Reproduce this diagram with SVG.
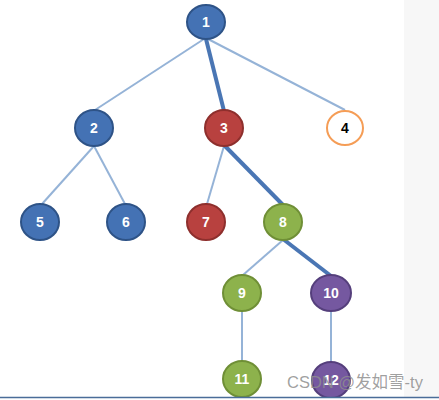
<svg xmlns="http://www.w3.org/2000/svg" width="439" height="400" viewBox="0 0 439 400">
<style>
.e{stroke:#95b3d7;stroke-width:2;fill:none}
.t{stroke:#4a76b4;stroke-width:4;fill:none}
.n{stroke-width:2}
.b{fill:#4472b4;stroke:#2e5387}
.r{fill:#b8413f;stroke:#8e2f2d}
.g{fill:#8db24c;stroke:#6f8f36}
.p{fill:#7558a0;stroke:#553f7c}
.o{fill:#ffffff;stroke:#f59d56}
text{font-family:"Liberation Sans",Arial,sans-serif;font-size:14px;font-weight:bold;fill:#ffffff;text-anchor:middle;dominant-baseline:central}
.wm{font-family:"Liberation Sans","Noto Sans CJK SC",sans-serif;font-weight:normal;font-size:16.5px;fill:#8f8f8f;fill-opacity:0.85;text-anchor:start;dominant-baseline:auto}
</style>
<rect x="0" y="0" width="439" height="400" fill="#ffffff"/>
<rect x="404" y="0" width="35" height="400" fill="#f7f7f7"/>
<g id="connectors">
<line class="e" x1="204" y1="39" x2="95" y2="110"/>
<line class="e" x1="208" y1="39" x2="345" y2="110"/>
<line class="e" x1="94" y1="146" x2="42" y2="204"/>
<line class="e" x1="94" y1="146" x2="125" y2="204"/>
<line class="e" x1="224" y1="146" x2="207" y2="204"/>
<line class="e" x1="283" y1="240" x2="243" y2="275"/>
<line class="e" x1="242" y1="311" x2="242" y2="362"/>
<line class="e" x1="331" y1="311" x2="331" y2="362"/>
<line class="t" x1="206" y1="39" x2="224" y2="111"/>
<line class="t" x1="224" y1="145" x2="283" y2="205"/>
<line class="t" x1="283" y1="239" x2="331" y2="276"/>
</g>
<g id="n1"><ellipse class="n b" cx="206" cy="22" rx="19" ry="17"/><text x="206" y="22">1</text></g>
<g id="n2"><ellipse class="n b" cx="94" cy="128" rx="19" ry="18"/><text x="94" y="128">2</text></g>
<g id="n3"><ellipse class="n r" cx="224" cy="128" rx="19" ry="18"/><text x="224" y="128">3</text></g>
<g id="n4"><ellipse class="n o" cx="345" cy="128" rx="18" ry="17"/><text x="345" y="128" style="fill:#000">4</text></g>
<g id="n5"><ellipse class="n b" cx="40" cy="222" rx="19" ry="18"/><text x="40" y="222">5</text></g>
<g id="n6"><ellipse class="n b" cx="126" cy="222" rx="19" ry="18"/><text x="126" y="222">6</text></g>
<g id="n7"><ellipse class="n r" cx="206" cy="222" rx="19" ry="18"/><text x="206" y="222">7</text></g>
<g id="n8"><ellipse class="n g" cx="283" cy="222" rx="19" ry="18"/><text x="283" y="222">8</text></g>
<g id="n9"><ellipse class="n g" cx="242" cy="293" rx="19" ry="18"/><text x="242" y="293">9</text></g>
<g id="n10"><ellipse class="n p" cx="331" cy="293" rx="20" ry="18"/><text x="331" y="293">10</text></g>
<g id="n11"><ellipse class="n g" cx="242" cy="379" rx="19" ry="18"/><text x="242" y="379">11</text></g>
<g id="n12"><ellipse class="n p" cx="331" cy="380" rx="19" ry="18"/><text x="331" y="380">12</text></g>
<rect x="0" y="397" width="439" height="3" fill="#ffffff"/>
<line x1="0" y1="397.5" x2="439" y2="397.5" stroke="#4a6d99" stroke-width="1.5"/>
<text class="wm" x="287" y="388">CSDN @发如雪-ty</text>
</svg>
